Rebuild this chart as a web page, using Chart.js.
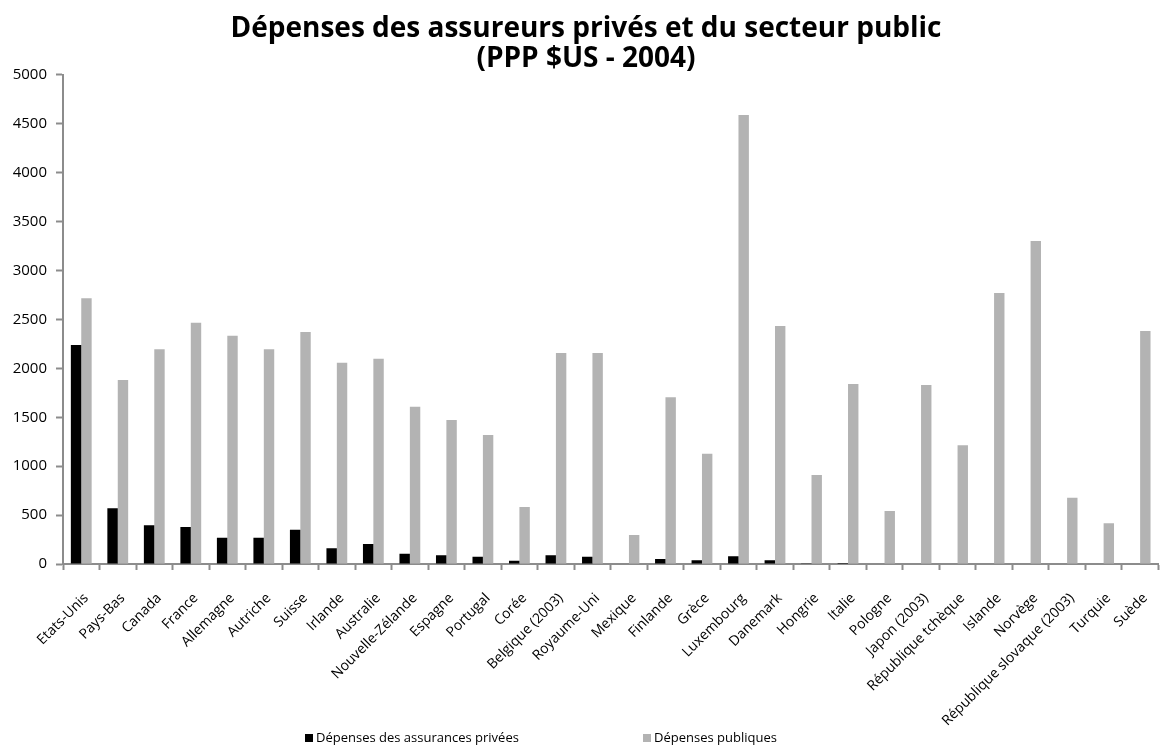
<!DOCTYPE html>
<html lang="fr">
<head>
<meta charset="utf-8">
<title>Dépenses des assureurs privés et du secteur public</title>
<script src="https://cdn.jsdelivr.net/npm/chart.js@4/dist/chart.umd.min.js"></script>
<style>
  html, body { margin: 0; padding: 0; background: #ffffff; overflow: hidden; }
  #wrap { width: 1172px; height: 747px; }
</style>
</head>
<body>
<div id="wrap"><canvas id="chart" width="1172" height="747"></canvas></div>
<script>
// Pays de l'OCDE
const countries = [
  "Etats-Unis", "Pays-Bas", "Canada", "France", "Allemagne", "Autriche", "Suisse",
  "Irlande", "Australie", "Nouvelle-Zélande", "Espagne", "Portugal", "Corée",
  "Belgique (2003)", "Royaume-Uni", "Mexique", "Finlande", "Grèce", "Luxembourg",
  "Danemark", "Hongrie", "Italie", "Pologne", "Japon (2003)", "République tchèque",
  "Islande", "Norvège", "République slovaque (2003)", "Turquie", "Suède"
];

// Dépenses des assurances privées (PPP $US)
const privateSpending = [
  2240, 570, 396, 378, 269, 269, 351, 161, 204, 105, 90, 75, 34,
  90, 75, 5, 51, 38, 79, 38, 8, 10, 0, 0, 0, 0, 0, 0, 0, 0
];

// Dépenses publiques (PPP $US)
const publicSpending = [
  2717, 1881, 2195, 2467, 2334, 2195, 2372, 2058, 2099, 1608, 1472, 1319, 583,
  2157, 2157, 297, 1705, 1128, 4591, 2434, 910, 1840, 542, 1830, 1214,
  2771, 3303, 678, 416, 2382
];

// Graduations de l'axe vertical
const yTickValues = [0, 500, 1000, 1500, 2000, 2500, 3000, 3500, 4000, 4500, 5000];

const seriesLabels = ["Dépenses des assurances privées", "Dépenses publiques"];
const titleLines = ["Dépenses des assureurs privés et du secteur public", "(PPP $US - 2004)"];

const AXIS_GREY = "#8c8c8c";
const FONT = "'Open Sans', 'Liberation Sans', sans-serif";

// Légende dessinée sous les libellés de l'axe horizontal
const bottomLegend = {
  id: "bottomLegend",
  afterDraw(chart, args, opts) {
    const ctx = chart.ctx;
    ctx.save();
    ctx.font = opts.font;
    ctx.textBaseline = "middle";
    ctx.textAlign = "left";
    chart.data.datasets.forEach((ds, i) => {
      const x = opts.x[i];
      ctx.fillStyle = ds.backgroundColor;
      ctx.fillRect(x, opts.y - 4, 8, 8);
      ctx.fillStyle = "#000000";
      ctx.fillText(ds.label, x + 11, opts.y);
    });
    ctx.restore();
  }
};

new Chart(document.getElementById("chart"), {
  type: "bar",
  data: {
    labels: countries,
    datasets: [
      {
        label: seriesLabels[0],
        data: privateSpending,
        backgroundColor: "#000000",
        borderWidth: 0
      },
      {
        label: seriesLabels[1],
        data: publicSpending,
        backgroundColor: "#b3b3b3",
        borderWidth: 0
      }
    ]
  },
  options: {
    responsive: false,
    animation: false,
    devicePixelRatio: 1,
    layout: { padding: 0 },
    datasets: {
      bar: { categoryPercentage: 0.57, barPercentage: 1.0 }
    },
    scales: {
      x: {
        grid: {
          display: true,
          drawOnChartArea: false,
          drawTicks: true,
          tickLength: 6,
          tickWidth: 2,
          color: AXIS_GREY,
          offset: true
        },
        border: { display: true, color: AXIS_GREY, width: 2 },
        ticks: {
          autoSkip: false,
          minRotation: 45,
          maxRotation: 45,
          padding: 20,
          labelOffset: 5,
          color: "#000000",
          font: { family: FONT, size: 14 }
        },
        afterFit(scale) { scale.height = 183; }
      },
      y: {
        min: 0,
        max: 5000,
        afterBuildTicks(scale) {
          scale.ticks = yTickValues.map(v => ({ value: v }));
        },
        grid: {
          display: true,
          drawOnChartArea: false,
          drawTicks: true,
          tickLength: 7,
          tickWidth: 2,
          color: AXIS_GREY
        },
        border: { display: true, color: AXIS_GREY, width: 2 },
        ticks: {
          padding: 9,
          color: "#000000",
          font: { family: FONT, size: 15 },
          callback: (value) => String(value)
        },
        afterFit(scale) { scale.width = 63; }
      }
    },
    plugins: {
      legend: { display: false },
      tooltip: { enabled: false },
      title: {
        display: true,
        text: titleLines,
        color: "#000000",
        font: { family: FONT, size: 28, weight: "bold", lineHeight: 1.07 },
        padding: { top: 14, bottom: 1 }
      },
      bottomLegend: {
        font: "13px " + FONT,
        x: [305, 643],
        y: 738
      }
    }
  },
  plugins: [bottomLegend]
});
</script>
</body>
</html>
